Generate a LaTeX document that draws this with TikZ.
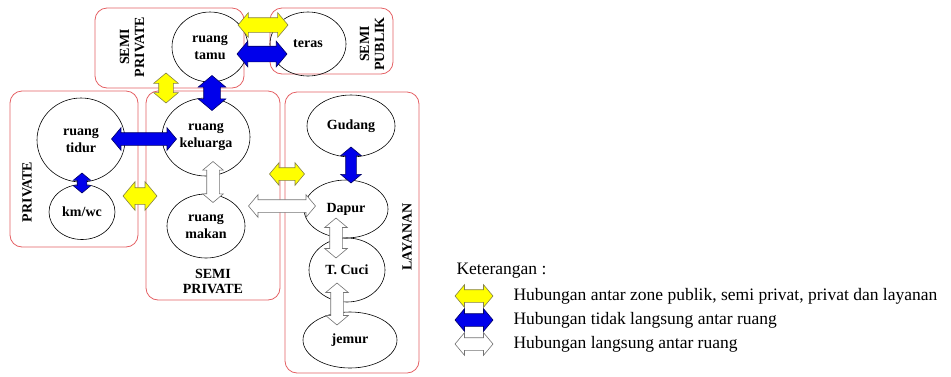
\documentclass[tikz,border=0pt]{standalone}
\usepackage{fontspec}
\setmainfont{Liberation Serif}
\usetikzlibrary{shapes.geometric,shapes.arrows}
\definecolor{zonered}{RGB}{228,96,100}
\definecolor{ayellow}{RGB}{255,255,0}
\definecolor{ablue}{RGB}{0,0,235}
\begin{document}
\begin{tikzpicture}
  [x=1pt,y=-1pt,
  zone/.style={draw=zonered,line width=0.8pt,rounded corners=12pt},
  room/.style={draw,ellipse,inner sep=0pt,line width=0.6pt,
    font=\fontsize{14}{17}\selectfont\bfseries,align=center},
  zlabel/.style={font=\fontsize{14}{15}\selectfont\bfseries,align=center},
  keytext/.style={anchor=west,font=\fontsize{17.5}{19}\selectfont},
  link/.style 2 args={double arrow,inner xsep=0pt,inner ysep=#1,
    double arrow head extend=#2,double arrow head indent=0pt,
    double arrow tip angle=100,line width=0.6pt},
  pub/.style={fill=ayellow,draw=black!55!yellow},
  indirect/.style={fill=ablue,draw=blue!40!black},
  direct/.style={fill=white,draw=black!55}]
  \useasboundingbox (0,0) rectangle (951,376);
  % zones
  \draw[zone] (95,8) rectangle (244,88);
  \draw[zone] (270,8) rectangle (393,74);
  \draw[zone] (10,91) rectangle (138,247);
  \draw[zone] (146,91) rectangle (280,300);
  \draw[zone] (285,92) rectangle (419,373);
  \node[zlabel,rotate=90] (zsp1) at (132,47) {SEMI\\PRIVATE};
  \node[zlabel,rotate=90] (zspb) at (372,44) {SEMI\\PUBLIK};
  \node[zlabel,rotate=90] (zpr) at (27,192) {PRIVATE};
  \node[zlabel,rotate=90] (zlay) at (407,237) {LAYANAN};
  \node[zlabel] (zsp2) at (213,281) {SEMI\\PRIVATE};
  % rooms
  \node[room,minimum width=76pt,minimum height=70pt] (tamu) at (210,47) {ruang\\tamu};
  \node[room,minimum width=76pt,minimum height=64pt] (teras) at (308,44) {teras};
  \node[room,minimum width=88pt,minimum height=84pt] (tidur) at (81,140) {ruang\\tidur};
  \node[room,minimum width=66pt,minimum height=55pt] (kmwc) at (82,212) {km/wc};
  \node[room,minimum width=88pt,minimum height=78pt] (keluarga) at (206,137) {ruang\\keluarga};
  \node[room,minimum width=78pt,minimum height=64pt] (makan) at (206,226) {ruang\\makan};
  \node[room,minimum width=88pt,minimum height=62pt] (gudang) at (351,126) {Gudang};
  \node[room,minimum width=84pt,minimum height=58pt] (dapur) at (346,209) {Dapur};
  \node[room,minimum width=76pt,minimum height=64pt] (cuci) at (347,270) {T. Cuci};
  \node[room,minimum width=94pt,minimum height=56pt] (jemur) at (350,340) {jemur};
  % relations
  \node[link={7pt}{5pt},pub,minimum height=50pt] (p1) at (263,25) {};
  \node[link={7.5pt}{5pt},indirect,minimum height=50pt] (i1) at (262,54) {};
  \node[link={7pt}{5pt},pub,rotate=90,minimum height=30pt] (p2) at (166,88) {};
  \node[link={8pt}{5.5pt},indirect,rotate=90,minimum height=35pt] (i2) at (212,93) {};
  \node[link={6pt}{5pt},indirect,minimum height=65pt] (i3) at (144,139) {};
  \node[link={4.5pt}{4pt},indirect,rotate=90,minimum height=20pt] (i4) at (82,183) {};
  \node[link={8pt}{6pt},pub,minimum height=34pt] (p3) at (140,196) {};
  \node[link={6pt}{4pt},direct,rotate=90,minimum height=41pt] (d1) at (213,182) {};
  \node[link={6pt}{5pt},direct,minimum height=67pt] (d2) at (282,206) {};
  \node[link={6pt}{5pt},pub,minimum height=35pt] (p4) at (287,174) {};
  \node[link={5pt}{5pt},indirect,rotate=90,minimum height=36pt] (i5) at (351,165) {};
  \node[link={6pt}{5pt},direct,rotate=90,minimum height=40pt] (d3) at (336,238) {};
  \node[link={6pt}{5pt},direct,rotate=90,minimum height=42pt] (d4) at (337,304) {};
  % keterangan
  \node[keytext] (ket) at (453,271) {Keterangan :};
  \node[link={6pt}{5pt},pub,minimum height=38pt] (lp) at (474,296) {};
  \node[link={6pt}{5pt},indirect,minimum height=38pt] (li) at (474,320) {};
  \node[link={6pt}{5pt},direct,minimum height=38pt] (ld) at (474,344) {};
  \node[keytext] (tp) at (510,296) {Hubungan antar zone publik, semi privat, privat dan layanan};
  \node[keytext] (ti) at (510,320) {Hubungan tidak langsung antar ruang};
  \node[keytext] (td) at (510,344) {Hubungan langsung antar ruang};
\end{tikzpicture}
\end{document}
